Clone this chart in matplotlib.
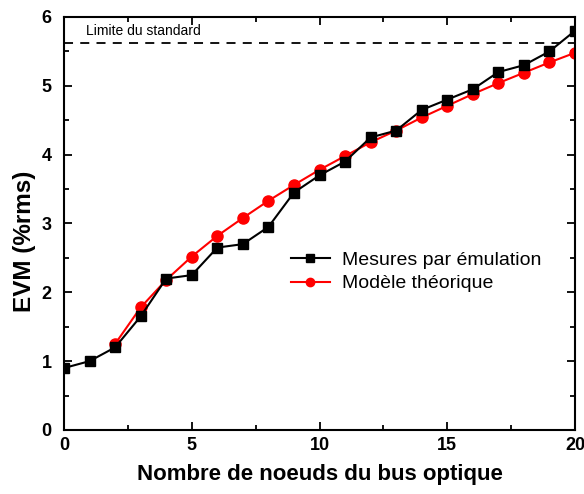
import matplotlib
matplotlib.use("Agg")
import matplotlib.pyplot as plt
from matplotlib.ticker import MultipleLocator

plt.rcParams['font.family'] = ['Liberation Sans', 'DejaVu Sans']

# --- Data ---
x_mes = list(range(0, 21))
evm_mes = [0.9, 1.0, 1.2, 1.65, 2.2, 2.25, 2.65, 2.7, 2.95, 3.45, 3.7,
           3.9, 4.25, 4.35, 4.65, 4.8, 4.95, 5.2, 5.3, 5.5, 5.8]
x_mod = list(range(2, 21))
evm_mod = [1.25, 1.78, 2.18, 2.52, 2.82, 3.08, 3.33, 3.56, 3.78, 3.98,
           4.18, 4.35, 4.54, 4.71, 4.88, 5.04, 5.19, 5.34, 5.48]
limite = 5.62

fig = plt.figure(figsize=(5.84, 4.94), dpi=100)
ax = fig.add_axes([0.1096, 0.1296, 0.875, 0.836])

ax.plot(x_mes, evm_mes, color='black', marker='s', markersize=7, lw=1.5,
        label='Mesures par émulation', zorder=3)
ax.plot(x_mod, evm_mod, color='red', marker='o', markersize=8, lw=1.5,
        label='Modèle théorique', zorder=2)
ax.axhline(limite, color='black', ls=(0, (5, 4)), lw=1.3)
ax.text(0.85, limite + 0.07, 'Limite du standard', fontsize=10, va='bottom')

ax.set_xlim(0, 20)
ax.set_ylim(0, 6)
ax.xaxis.set_major_locator(MultipleLocator(5))
ax.xaxis.set_minor_locator(MultipleLocator(2.5))
ax.yaxis.set_major_locator(MultipleLocator(1))
ax.yaxis.set_minor_locator(MultipleLocator(0.5))
ax.tick_params(which='both', direction='in', top=True, right=True, width=1.3)
ax.tick_params(which='major', length=6, labelsize=13)
ax.tick_params(axis='y', which='major', pad=9)
ax.tick_params(axis='x', which='major', pad=5)
ax.tick_params(which='minor', length=3.5)
for lab in ax.get_xticklabels() + ax.get_yticklabels():
    lab.set_fontweight('bold')
for s in ax.spines.values():
    s.set_linewidth(1.5)

ax.set_xlabel('Nombre de noeuds du bus optique', fontsize=16, fontweight='bold', labelpad=7.5)
ax.set_ylabel('EVM (%rms)', fontsize=17.5, fontweight='bold')
ax.yaxis.set_label_coords(-0.054, 0.458)

ax.legend(loc='upper left', bbox_to_anchor=(0.41, 0.475), frameon=False,
          fontsize=14, handlelength=2.0, handletextpad=0.6, labelspacing=0.3,
          markerscale=0.75)

fig.savefig('out.png', dpi=100)
